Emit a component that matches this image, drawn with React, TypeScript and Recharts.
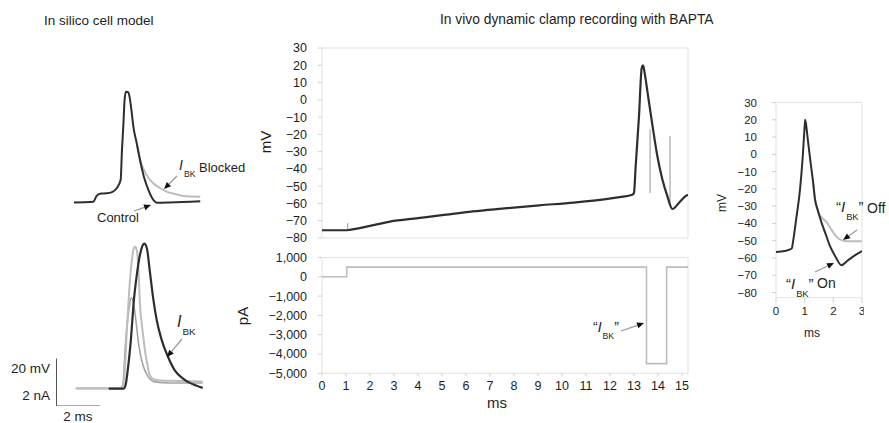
import React from 'react';
import { LineChart, Line, XAxis, YAxis, ReferenceArea, ReferenceLine } from 'recharts';

const FONT = "'Liberation Sans Narrow', 'Liberation Sans', Arial, sans-serif";
const DARK = '#2e2e2e';
const GREY = '#bdbdbd';
const MID = '#a4a4a4';
const FRAME = '#e3e3e3';
const TEXT = '#1e1e1e';

// In silico model, top: control vs I_BK blocked (ms, mV)
const controlT = [0, 0.88, 1.03, 1.23, 1.49, 1.73, 1.94, 2.12, 2.18, 2.24, 2.3, 2.36, 2.45, 2.51, 2.61, 2.7, 2.85, 3.0, 3.18, 3.38, 3.55, 3.76, 4.36, 5.75];
const controlMv = [-68.5, -68.2, -65.8, -64.8, -64.7, -64.2, -62.6, -59.2, -46.7, -37, -25.8, -22.4, -22.5, -23.8, -30, -37, -43.8, -50.8, -57.9, -63.3, -66.7, -68.6, -68.5, -68.0];
const blockedT = [2.85, 3.0, 3.18, 3.36, 3.6, 3.91, 4.21, 4.59, 4.97, 5.75];
const blockedMv = [-43.8, -50.5, -55, -57.9, -60.5, -62.5, -64, -65, -65.8, -66.1];

// In silico model, bottom: two voltage traces (mV) and I_BK (nA)
const apAT = [0, 2.0, 2.15, 2.23, 2.32, 2.43, 2.55, 2.64, 2.7, 2.77, 2.86, 2.91, 2.98, 3.06, 3.14, 3.23, 3.36, 3.55, 3.82, 4.73, 5.77];
const apAMv = [-68.5, -68.5, -67.1, -60.8, -44.2, -27.5, -15, -10, -9.5, -10.8, -21.3, -32.4, -40, -46.3, -52.5, -57.4, -62.9, -64.8, -65.2, -65.4, -65.6];
const apBT = [0, 2.05, 2.14, 2.27, 2.41, 2.52, 2.59, 2.73, 2.86, 3.05, 3.27, 3.59, 4.27, 5.77];
const apBMv = [-68.5, -68.5, -66.7, -48.3, -35.8, -30.8, -31.7, -40, -50.4, -58.75, -63.3, -65.8, -66.25, -66.25];
const ikT = [1.5, 2.18, 2.27, 2.36, 2.5, 2.64, 2.77, 2.91, 3.02, 3.11, 3.23, 3.36, 3.5, 3.68, 3.91, 4.18, 4.5, 4.86, 5.18, 5.5, 5.77];
const ikNa = [0, 0, 0.18, 0.76, 2.0, 3.68, 4.72, 5.55, 5.93, 6.04, 5.85, 4.93, 3.89, 2.85, 2.01, 1.35, 0.76, 0.43, 0.24, 0.12, 0.03];

// In vivo dynamic clamp: membrane potential (ms, mV)
const vivoT = [0, 1.0, 1.15, 2.0, 2.83, 4.0, 5.0, 6.28, 7.5, 9.06, 10.5, 11.83, 12.4, 12.93, 13.0, 13.07, 13.21, 13.32, 13.38, 13.45, 13.56, 13.77, 13.97, 14.18, 14.39, 14.6, 14.87, 15.15, 15.25];
const vivoMv = [-75.5, -75.5, -75.3, -73, -70.5, -68.5, -66.8, -64.6, -63, -61.1, -59.5, -57.5, -56.3, -55, -53.8, -38.3, -9, 18.3, 19.9, 15, 4.7, -14.9, -32.4, -46, -55.8, -63.2, -59.7, -55.8, -55];
// clamp switching artefacts (null breaks the line)
const artefactT = [1.07, 1.07, 1.07, 13.67, 13.67, 13.67, 14.5, 14.5];
const artefactMv = [-75.3, -71.5, null, -54, -17, null, -60, -21];
// injected current (ms, pA)
const clampT = [0, 1.03, 13.52, 14.36, 15.25];
const clampPa = [0, 500, -4500, 500, 500];

const vivoMvTicks = [30, 20, 10, 0, -10, -20, -30, -40, -50, -60, -70, -80];
const vivoPaTicks = [1000, 0, -1000, -2000, -3000, -4000, -5000];
const vivoMsTicks = [0, 1, 2, 3, 4, 5, 6, 7, 8, 9, 10, 11, 12, 13, 14, 15];

// Zoomed spike: "I_BK" on vs off (ms, mV)
const onT = [0, 0.3, 0.55, 0.6, 0.7, 0.84, 0.93, 1.0, 1.02, 1.1, 1.2, 1.3, 1.36, 1.45, 1.59, 1.75, 1.88, 2.0, 2.1, 2.28, 2.5, 2.75, 3.0];
const onMv = [-56.5, -56, -54.5, -50, -38, -20, -2, 16, 20, 10, -4, -17, -26, -32, -39.6, -47, -53, -57, -60, -64.2, -61.5, -58.5, -56];
const offT = [1.3, 1.36, 1.45, 1.5, 1.62, 1.75, 1.95, 2.1, 2.3, 2.5, 3.0];
const offMv = [-17, -26, -32, -34.5, -37, -39, -44, -47.5, -49.8, -50.3, -50.3];
const zoomMvTicks = [30, 20, 10, 0, -10, -20, -30, -40, -50, -60, -70, -80];
const zoomMsTicks = [0, 1, 2, 3];

const rows = (t: number[], v: (number | null)[]) => t.map((x, i) => ({ t: x, v: v[i] }));
const minus = (v: number) => (v < 0 ? '\u2212' + Math.abs(v) : String(v));
const thousands = (v: number) => (v < 0 ? '\u2212' : '') + Math.abs(v).toLocaleString('en-US');

const tickStyle = { fontSize: 12.5, fill: TEXT, fontFamily: FONT };

function Arrow({ from, to }: { from: [number, number]; to: [number, number] }) {
  const [x1, y1] = from;
  const [x2, y2] = to;
  const a = Math.atan2(y2 - y1, x2 - x1);
  const bx = x2 - 7 * Math.cos(a);
  const by = y2 - 7 * Math.sin(a);
  const s = Math.sin(a) * 3;
  const c = Math.cos(a) * 3;
  return (
    <g>
      <line x1={x1} y1={y1} x2={bx} y2={by} stroke="#9a9a9a" strokeWidth={1.3} />
      <polygon points={`${x2},${y2} ${bx + s},${by - c} ${bx - s},${by + c}`} fill="#111" />
    </g>
  );
}

function Ibk({ x, y, size, quoted }: { x: number; y: number; size: number; quoted?: boolean }) {
  const sub = size * 0.62;
  return (
    <text x={x} y={y} fontSize={size} fill={TEXT} fontFamily={FONT}>
      {quoted ? '\u201C' : ''}
      <tspan fontStyle="italic">I</tspan>
      <tspan fontSize={sub} dx={1} dy={size * 0.5}>BK</tspan>
      {quoted ? <tspan dy={-size * 0.5}>{'\u201D'}</tspan> : null}
    </text>
  );
}

function Place({ left, top, children }: { left: number; top: number; children: React.ReactNode }) {
  return <div style={{ position: 'absolute', left, top }}>{children}</div>;
}

export default function App() {
  return (
    <div style={{ position: 'absolute', left: 0, top: 0, width: 889, height: 423, background: '#fff', overflow: 'hidden', fontFamily: FONT }}>
      {/* in silico, top */}
      <Place left={74} top={86}>
        <LineChart width={126.5} height={120} margin={{ top: 0, right: 0, bottom: 0, left: 0 }}>
          <XAxis type="number" dataKey="t" domain={[0, 5.75]} allowDataOverflow hide />
          <YAxis domain={[-70, -20]} allowDataOverflow hide />
          <Line data={rows(blockedT, blockedMv)} dataKey="v" type="monotone" stroke={GREY} strokeWidth={2} dot={false} isAnimationActive={false} />
          <Line data={rows(controlT, controlMv)} dataKey="v" type="monotone" stroke={DARK} strokeWidth={2} dot={false} isAnimationActive={false} />
        </LineChart>
      </Place>

      {/* in silico, bottom, with the 20 mV / 2 nA / 2 ms scale bar */}
      <Place left={56} top={235.6}>
        <LineChart width={147.4} height={170.4} margin={{ top: 0, right: 0, bottom: 0, left: 0 }}>
          <XAxis type="number" dataKey="t" domain={[-0.9, 5.8]} allowDataOverflow hide />
          <YAxis yAxisId="v" domain={[-76, -5]} allowDataOverflow hide />
          <YAxis yAxisId="i" domain={[-0.74, 6.36]} allowDataOverflow hide />
          <Line yAxisId="v" data={rows(apBT, apBMv)} dataKey="v" type="monotone" stroke={MID} strokeWidth={1.6} dot={false} isAnimationActive={false} />
          <Line yAxisId="v" data={rows(apAT, apAMv)} dataKey="v" type="monotone" stroke={GREY} strokeWidth={2} dot={false} isAnimationActive={false} />
          <Line yAxisId="i" data={rows(ikT, ikNa)} dataKey="v" type="monotone" stroke={DARK} strokeWidth={2.2} dot={false} isAnimationActive={false} />
          <ReferenceLine yAxisId="v" segment={[{ x: -0.9, y: -76 }, { x: -0.9, y: -56 }]} stroke="#555" strokeWidth={2} ifOverflow="visible" />
          <ReferenceLine yAxisId="v" segment={[{ x: -0.9, y: -76 }, { x: 1.1, y: -76 }]} stroke="#555" strokeWidth={2} ifOverflow="visible" />
        </LineChart>
      </Place>

      {/* in vivo, membrane potential */}
      <Place left={240} top={40}>
        <LineChart width={450} height={205} margin={{ top: 8, right: 2, bottom: 7, left: 0 }}>
          <XAxis type="number" dataKey="t" domain={[0, 15.25]} allowDataOverflow hide />
          <YAxis width={82} domain={[-80, 30]} ticks={vivoMvTicks} interval={0} allowDataOverflow axisLine={false}
            tickLine={{ stroke: '#d0d0d0' }} tickSize={4} tickMargin={11} tickFormatter={minus} tick={tickStyle} />
          <ReferenceArea x1={0} x2={15.25} y1={-80} y2={30} fill="none" stroke={FRAME} ifOverflow="visible" />
          <Line data={rows(artefactT, artefactMv)} dataKey="v" stroke="#a8a8a8" strokeWidth={1.2} dot={false} connectNulls={false} isAnimationActive={false} />
          <Line data={rows(vivoT, vivoMv)} dataKey="v" type="monotone" stroke={DARK} strokeWidth={2.2} dot={false} isAnimationActive={false} />
        </LineChart>
      </Place>

      {/* in vivo, injected current */}
      <Place left={240} top={250}>
        <LineChart width={450} height={150} margin={{ top: 7.5, right: 2, bottom: 0, left: 0 }}>
          <XAxis type="number" dataKey="t" domain={[0, 15.25]} ticks={vivoMsTicks} interval={0} allowDataOverflow height={26.7}
            axisLine={false} tickLine={{ stroke: '#d0d0d0' }} tickSize={3} tickMargin={5} tick={tickStyle} />
          <YAxis width={82} domain={[-5000, 1000]} ticks={vivoPaTicks} interval={0} allowDataOverflow axisLine={false}
            tickLine={{ stroke: '#d0d0d0' }} tickSize={4} tickMargin={11} tickFormatter={thousands} tick={tickStyle} />
          <ReferenceArea x1={0} x2={15.25} y1={-5000} y2={1000} fill="none" stroke={FRAME} ifOverflow="visible" />
          <Line data={rows(clampT, clampPa)} dataKey="v" type="stepAfter" stroke={GREY} strokeWidth={1.6} dot={false} isAnimationActive={false} />
        </LineChart>
      </Place>

      {/* zoomed spike, I_BK on / off */}
      <Place left={700} top={95}>
        <LineChart width={164} height={222.7} margin={{ top: 7.5, right: 2, bottom: 0, left: 0 }}>
          <XAxis type="number" dataKey="t" domain={[0, 3]} ticks={zoomMsTicks} interval={0} allowDataOverflow height={20}
            axisLine={false} tickLine={{ stroke: '#d0d0d0' }} tickSize={5} tickMargin={4} tick={{ ...tickStyle, fontSize: 11.5 }} />
          <YAxis width={76} domain={[-83, 30]} ticks={zoomMvTicks} interval={0} allowDataOverflow axisLine={false}
            tickLine={{ stroke: '#d0d0d0' }} tickSize={4} tickMargin={15} tickFormatter={minus} tick={{ ...tickStyle, fontSize: 11.5 }} />
          <ReferenceArea x1={0} x2={3} y1={-83} y2={30} fill="none" stroke={FRAME} ifOverflow="visible" />
          <Line data={rows(offT, offMv)} dataKey="v" type="monotone" stroke={GREY} strokeWidth={2} dot={false} isAnimationActive={false} />
          <Line data={rows(onT, onMv)} dataKey="v" type="monotone" stroke={DARK} strokeWidth={2} dot={false} isAnimationActive={false} />
        </LineChart>
      </Place>

      {/* titles, axis names and annotations */}
      <svg width={889} height={423} style={{ position: 'absolute', left: 0, top: 0, pointerEvents: 'none' }} fontFamily={FONT}>
        <text x={44} y={25} fontSize={13.5} fill={TEXT}>In silico cell model</text>
        <text x={440} y={24} fontSize={13.8} fill={TEXT}>In vivo dynamic clamp recording with BAPTA</text>

        <text x={265} y={142} fontSize={15} fill={TEXT} textAnchor="middle" dominantBaseline="central" transform="rotate(-90 265 142)">mV</text>
        <text x={242} y={316} fontSize={15} fill={TEXT} textAnchor="middle" dominantBaseline="central" transform="rotate(-90 242 316)">pA</text>
        <text x={497} y={402} fontSize={15} fill={TEXT} textAnchor="middle" dominantBaseline="central">ms</text>
        <text x={722} y={203} fontSize={12} fill={TEXT} textAnchor="middle" dominantBaseline="central" transform="rotate(-90 722 203)">mV</text>
        <text x={812} y={333} fontSize={12} fill={TEXT} textAnchor="middle" dominantBaseline="central">ms</text>

        <Ibk x={179} y={170} size={14} />
        <text x={199} y={171.5} fontSize={13} fill={TEXT}>Blocked</text>
        <Arrow from={[177, 176]} to={[164, 189]} />
        <text x={97} y={222} fontSize={13} fill={TEXT}>Control</text>
        <Arrow from={[134, 211]} to={[151, 205]} />

        <Ibk x={177} y={327} size={16} />
        <Arrow from={[182, 339]} to={[167, 357]} />

        <text x={50} y={373} fontSize={13.5} fill={TEXT} textAnchor="end">20 mV</text>
        <text x={50} y={400} fontSize={13.5} fill={TEXT} textAnchor="end">2 nA</text>
        <text x={78} y={421} fontSize={13.5} fill={TEXT} textAnchor="middle">2 ms</text>

        <Ibk x={593} y={332} size={14} quoted />
        <Arrow from={[621, 331]} to={[644, 323]} />

        <Ibk x={836} y={212} size={15} quoted />
        <text x={867} y={213} fontSize={14} fill={TEXT}>Off</text>
        <Arrow from={[857, 230]} to={[843, 240]} />
        <Ibk x={786} y={289} size={15} quoted />
        <text x={817} y={288} fontSize={14} fill={TEXT}>On</text>
        <Arrow from={[815, 272]} to={[834, 263]} />
      </svg>
    </div>
  );
}
